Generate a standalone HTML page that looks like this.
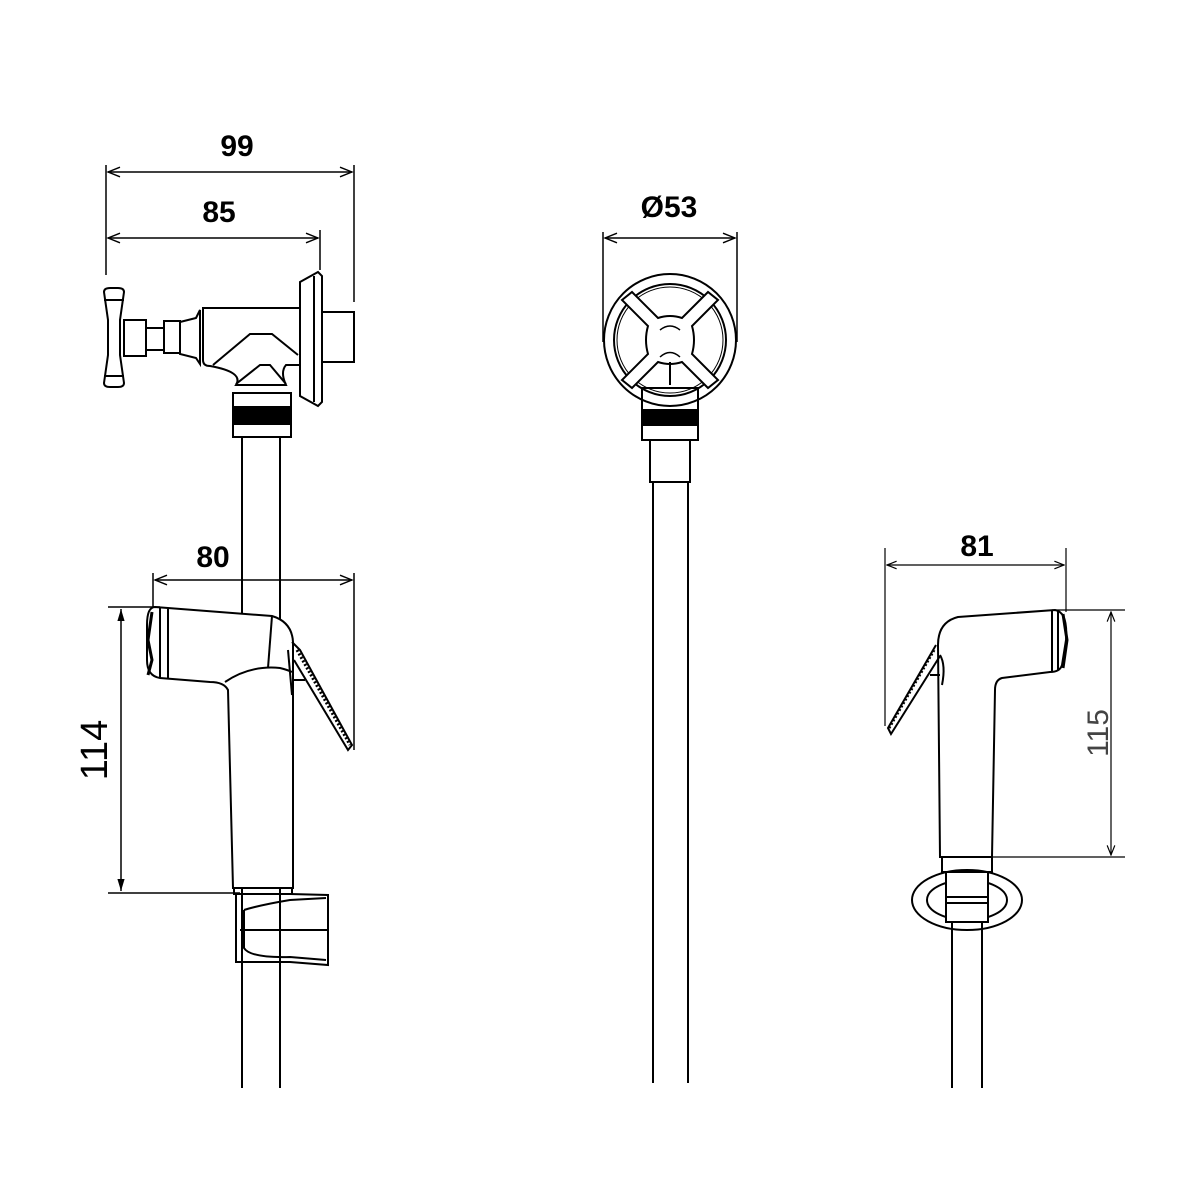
<!DOCTYPE html>
<html><head><meta charset="utf-8"><style>html,body{margin:0;padding:0;background:#fff}svg{display:block}</style></head>
<body>
<svg width="1200" height="1200" viewBox="0 0 1200 1200" xmlns="http://www.w3.org/2000/svg" font-family="Liberation Sans, sans-serif">
<defs>
<marker id="a" viewBox="0 0 10 10" refX="10" refY="5" markerWidth="10" markerHeight="8" orient="auto-start-reverse"><path d="M0,1 L10,5 L0,9" fill="none" stroke="#000" stroke-width="1.2"/></marker>
<marker id="f" viewBox="0 0 10 10" refX="10" refY="5" markerWidth="10" markerHeight="8" orient="auto-start-reverse"><path d="M0,2 L10,5 L0,8 Z" fill="#000"/></marker>
</defs>
<g fill="none" stroke="#000" stroke-width="2">
<!-- LEFT dims -->
<line x1="106" y1="165" x2="106" y2="275" stroke-width="1.5"/>
<line x1="354" y1="165" x2="354" y2="302" stroke-width="1.5"/>
<line x1="320" y1="230" x2="320" y2="270" stroke-width="1.5"/>
<line x1="108" y1="172" x2="352" y2="172" stroke-width="1.5" marker-start="url(#a)" marker-end="url(#a)"/>
<line x1="108" y1="238" x2="318" y2="238" stroke-width="1.5" marker-start="url(#a)" marker-end="url(#a)"/>
<!-- valve -->
<path d="M104,292 Q104,288 110,288 L118,288 Q124,288 124,292 L120,320 L120,355 L124,383 Q124,387 118,387 L110,387 Q104,387 104,383 L108,355 L108,320 Z"/>
<line x1="104" y1="300" x2="124" y2="300"/><line x1="104" y1="376" x2="124" y2="376"/>
<rect x="124" y="320" width="22" height="36"/>
<rect x="146" y="328" width="18" height="22"/>
<rect x="164" y="321" width="16" height="32"/>
<path d="M180,322 L196,318 L200,310 L200,364 L196,358 L180,354 Z"/>
<path d="M203,308 L300,308 L300,365 L286,365 Q280,372 286,385 L236,385 Q244,372 210,366 Q203,366 203,360 Z"/>
<path d="M213,365 L250,334 L272,334 L298,355"/>
<path d="M236,384 L260,365 L270,365 L286,384"/>
<path d="M300,282 L318,272 L322,276 L322,402 L318,406 L300,396 Z"/>
<line x1="314" y1="276" x2="314" y2="402"/>
<rect x="322" y="312" width="32" height="50"/>
<rect x="233" y="393" width="58" height="44"/>
<rect x="233" y="407" width="58" height="17" fill="#000"/>
<line x1="242" y1="437" x2="242" y2="1088"/>
<line x1="280" y1="437" x2="280" y2="1088"/>
<!-- left handset dims -->
<line x1="153" y1="573" x2="153" y2="607" stroke-width="1.5"/>
<line x1="354" y1="573" x2="354" y2="750" stroke-width="1.5"/>
<line x1="155" y1="580" x2="352" y2="580" stroke-width="1.5" marker-start="url(#a)" marker-end="url(#a)"/>
<line x1="108" y1="607" x2="160" y2="607" stroke-width="1.5"/>
<line x1="108" y1="893" x2="240" y2="893" stroke-width="1.5"/>
<line x1="121" y1="609" x2="121" y2="891" stroke-width="1.5" marker-start="url(#f)" marker-end="url(#f)"/>
<!-- left handset -->
<path d="M155,607 L272,616 Q292,622 293,642 L293,888 L233,888 L228,690 Q224,682 210,682 L160,678 Q147,676 147,660 L147,625 Q147,607 155,607 Z" fill="#fff"/>
<line x1="160" y1="608" x2="160" y2="678"/><line x1="168" y1="609" x2="168" y2="679"/>
<path d="M152,612 L148,640 L152,660 L148,675" stroke-width="3"/>
<line x1="272" y1="616" x2="268" y2="668"/>
<path d="M225,682 Q250,665 280,668 Q288,670 292,672"/>
<path d="M292,642 L300,650 L352,745 L348,750 L294,660"/>
<path d="M297,650 L350,745" stroke-width="3" stroke-dasharray="2 2"/>
<path d="M288,650 L292,695"/><line x1="292" y1="680" x2="305" y2="680"/>
<rect x="234" y="888" width="58" height="6"/>
<path d="M236,894 L290,894 L328,895 L328,965 L290,962 L236,962 Z"/>
<path d="M244,910 Q260,905 290,900 L326,898"/>
<path d="M244,910 L244,948 Q250,958 290,957 L326,960"/>
<line x1="240" y1="930" x2="328" y2="930"/>
<!-- CENTER -->
<line x1="603" y1="232" x2="603" y2="342" stroke-width="1.5"/>
<line x1="737" y1="232" x2="737" y2="342" stroke-width="1.5"/>
<line x1="605" y1="238" x2="735" y2="238" stroke-width="1.5" marker-start="url(#a)" marker-end="url(#a)"/>
<circle cx="670" cy="340" r="66"/>
<circle cx="670" cy="340" r="56"/>
<circle cx="670" cy="340" r="53" stroke-width="1"/>
<path d="M622,300 L632,292 L658,318 Q670,314 682,318 L708,292 L718,300 L692,326 Q696,340 692,354 L718,380 L708,388 L682,362 Q670,366 658,362 L632,388 L622,380 L648,354 Q644,340 648,326 Z" fill="#fff"/>
<path d="M660,330 Q670,322 680,330" stroke-width="1.5"/>
<path d="M660,357 Q670,348 680,357" stroke-width="1.5"/>
<line x1="670" y1="362" x2="670" y2="385"/>
<rect x="642" y="388" width="56" height="52"/>
<rect x="642" y="410" width="56" height="15" fill="#000"/>
<rect x="650" y="440" width="40" height="42"/>
<line x1="653" y1="482" x2="653" y2="1083"/>
<line x1="688" y1="482" x2="688" y2="1083"/>
<!-- RIGHT -->
<line x1="885" y1="548" x2="885" y2="726" stroke-width="1.2"/>
<line x1="1066" y1="548" x2="1066" y2="612" stroke-width="1.2"/>
<line x1="887" y1="565" x2="1064" y2="565" stroke-width="1.2" marker-start="url(#a)" marker-end="url(#a)"/>
<line x1="1052" y1="610" x2="1125" y2="610" stroke-width="1.2"/>
<line x1="993" y1="857" x2="1125" y2="857" stroke-width="1.2"/>
<line x1="1111" y1="612" x2="1111" y2="855" stroke-width="1.2" marker-start="url(#a)" marker-end="url(#a)"/>
<path d="M958,617 L1055,610 Q1068,612 1066,640 L1062,665 Q1060,672 1050,672 L1002,678 Q995,680 995,690 L992,857 L940,857 L938,645 Q938,622 958,617 Z" fill="#fff"/>
<line x1="1052" y1="611" x2="1052" y2="672"/><line x1="1058" y1="611" x2="1058" y2="670"/>
<path d="M1063,614 L1067,640 L1063,668" stroke-width="3"/>
<path d="M936,645 L888,728 L891,734 L940,656"/>
<path d="M934,650 L889,728" stroke-width="3" stroke-dasharray="2 2"/>
<path d="M940,655 Q946,665 942,685"/><line x1="930" y1="675" x2="940" y2="675"/>
<rect x="942" y="857" width="50" height="15"/>
<ellipse cx="967" cy="900" rx="55" ry="30"/>
<ellipse cx="967" cy="900" rx="40" ry="20"/>
<rect x="946" y="872" width="42" height="50" fill="#fff"/>
<line x1="946" y1="897" x2="988" y2="897"/><line x1="946" y1="903" x2="988" y2="903"/>
<line x1="952" y1="922" x2="952" y2="1088"/>
<line x1="982" y1="922" x2="982" y2="1088"/>
</g>
<g fill="#000" font-weight="bold" font-size="30" text-anchor="middle">
<text x="237" y="156">99</text>
<text x="219" y="222">85</text>
<text x="213" y="567">80</text>
<text x="669" y="217">Ø53</text>
<text x="977" y="556">81</text>
</g>
<text x="0" y="0" font-size="38" text-anchor="middle" transform="translate(107,750) rotate(-90)">114</text>
<text x="0" y="0" font-size="30" fill="#444" text-anchor="middle" transform="translate(1108,733) rotate(-90)">115</text>
</svg>
</body></html>
